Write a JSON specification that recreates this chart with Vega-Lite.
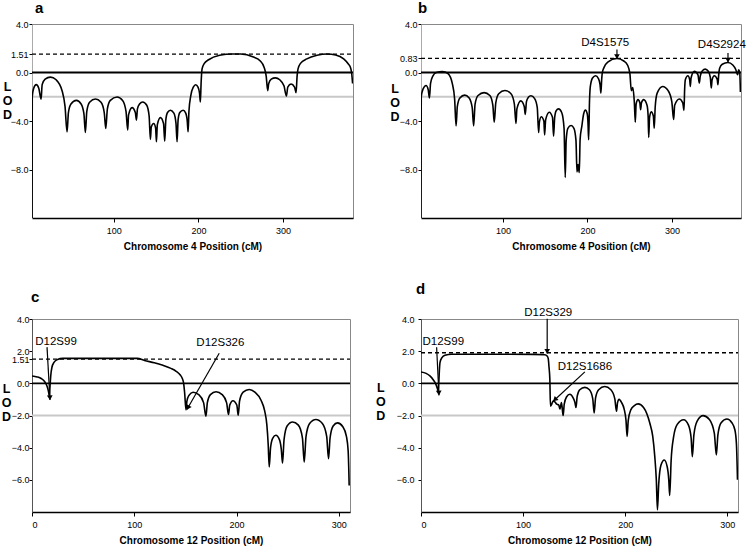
{
"$schema":"https://vega.github.io/schema/vega-lite/v6.json",
"padding":{"left":0,"top":0,"right":0,"bottom":0},
"config":{"font":"Liberation Sans","view":{"stroke":"#888","strokeWidth":1},
"axis":{"grid":false,"labelFont":"Liberation Sans","titleFont":"Liberation Sans","labelColor":"black","titleColor":"black","tickColor":"black","labelFontSize":9,"labelOverlap":false},
"title":{"font":"Liberation Sans","color":"black"},
"text":{"font":"Liberation Sans"}},
"datasets":{
"curveA":[{"x":3.6,"y":-12},{"x":3.8,"y":-2.0},{"x":5.5,"y":-1.3},{"x":8.5,"y":-1.0},{"x":11.5,"y":-1.3},{"x":14.2,"y":-2.2},{"x":15.5,"y":-1.0},{"x":19,"y":-0.55},{"x":25.2,"y":-0.38},{"x":32,"y":-0.6},{"x":39,"y":-1.5},{"x":42.5,"y":-2.8},{"x":44.9,"y":-4.9},{"x":46.5,"y":-3.3},{"x":49.5,"y":-2.6},{"x":55.9,"y":-2.3},{"x":61.5,"y":-2.6},{"x":64.8,"y":-3.4},{"x":66.5,"y":-4.95},{"x":68.2,"y":-3.2},{"x":71.5,"y":-2.45},{"x":78.4,"y":-2.19},{"x":85,"y":-2.45},{"x":88.8,"y":-3.3},{"x":90.6,"y":-4.62},{"x":92.5,"y":-3.0},{"x":96,"y":-2.3},{"x":103.9,"y":-2.02},{"x":110.5,"y":-2.3},{"x":114.5,"y":-3.2},{"x":116.5,"y":-4.75},{"x":117.5,"y":-3.5},{"x":121.6,"y":-2.9},{"x":125.5,"y":-3.3},{"x":126.8,"y":-3.93},{"x":128,"y":-3.0},{"x":130.5,"y":-2.6},{"x":134.2,"y":-2.43},{"x":139,"y":-2.7},{"x":141.8,"y":-3.6},{"x":143.3,"y":-5.52},{"x":144.3,"y":-4.5},{"x":147.2,"y":-4.2},{"x":149.5,"y":-4.6},{"x":150.4,"y":-5.71},{"x":151.5,"y":-4.3},{"x":155.1,"y":-3.72},{"x":158.8,"y":-4.2},{"x":160.2,"y":-5.66},{"x":161.5,"y":-3.9},{"x":163.5,"y":-3.3},{"x":166.9,"y":-3.11},{"x":171,"y":-3.35},{"x":173.5,"y":-4.2},{"x":174.8,"y":-5.71},{"x":176,"y":-3.9},{"x":178,"y":-3.3},{"x":181.9,"y":-3.11},{"x":185,"y":-3.35},{"x":186.8,"y":-4.0},{"x":187.8,"y":-4.89},{"x":188.8,"y":-3.2},{"x":191,"y":-1.9},{"x":194,"y":-1.2},{"x":196.8,"y":-1.01},{"x":199.5,"y":-1.2},{"x":201.3,"y":-1.7},{"x":202.3,"y":-2.43},{"x":203.2,"y":-0.8},{"x":204.3,"y":0.3},{"x":207,"y":0.75},{"x":212,"y":1.05},{"x":225,"y":1.42},{"x":240,"y":1.53},{"x":250,"y":1.53},{"x":265,"y":1.27},{"x":273,"y":0.95},{"x":277.5,"y":0.44},{"x":280,"y":-0.3},{"x":281.8,"y":-1.5},{"x":283,"y":-0.9},{"x":286,"y":-0.55},{"x":290.9,"y":-0.44},{"x":296,"y":-0.6},{"x":301,"y":-1.1},{"x":303.9,"y":-1.94},{"x":305.5,"y":-1.2},{"x":309.4,"y":-0.95},{"x":313.5,"y":-1.2},{"x":315.3,"y":-1.67},{"x":316.5,"y":-0.3},{"x":317.6,"y":0.3},{"x":320.5,"y":0.75},{"x":328,"y":1.12},{"x":340,"y":1.42},{"x":352,"y":1.53},{"x":362,"y":1.45},{"x":371.5,"y":1.12},{"x":377,"y":0.7},{"x":379.4,"y":0.44},{"x":381,"y":-0.1},{"x":382,"y":-0.9}],
"curveB":[{"x":3.0,"y":-12},{"x":3.3,"y":-2.0},{"x":5.5,"y":-1.35},{"x":9.0,"y":-1.07},{"x":11.5,"y":-1.4},{"x":13.0,"y":-2.1},{"x":14.3,"y":-0.9},{"x":17,"y":-0.3},{"x":21,"y":0.0},{"x":28.2,"y":0.08},{"x":35,"y":-0.1},{"x":40,"y":-0.9},{"x":42.8,"y":-2.2},{"x":44.5,"y":-4.4},{"x":46,"y":-2.8},{"x":49,"y":-2.1},{"x":54.6,"y":-1.87},{"x":60,"y":-2.1},{"x":63.6,"y":-2.9},{"x":65.3,"y":-4.4},{"x":67,"y":-2.6},{"x":70.5,"y":-1.9},{"x":77.7,"y":-1.66},{"x":84.5,"y":-1.9},{"x":88,"y":-2.7},{"x":89.7,"y":-4.1},{"x":91.5,"y":-2.5},{"x":95,"y":-1.75},{"x":102.3,"y":-1.49},{"x":109.5,"y":-1.75},{"x":113.5,"y":-2.6},{"x":115.4,"y":-4.2},{"x":116.5,"y":-3.0},{"x":121.1,"y":-2.34},{"x":125.2,"y":-2.8},{"x":126.4,"y":-3.45},{"x":127.8,"y":-2.4},{"x":130,"y":-2.05},{"x":133.1,"y":-1.92},{"x":137.5,"y":-2.15},{"x":140.6,"y":-2.9},{"x":142.2,"y":-4.95},{"x":143.1,"y":-4.1},{"x":145.3,"y":-3.65},{"x":148.4,"y":-4.0},{"x":149.3,"y":-5.15},{"x":150.5,"y":-3.9},{"x":154.8,"y":-3.28},{"x":158.6,"y":-3.7},{"x":159.9,"y":-5.25},{"x":161.2,"y":-3.7},{"x":163,"y":-3.15},{"x":165.8,"y":-3.0},{"x":169.5,"y":-3.3},{"x":172.3,"y":-4.6},{"x":173.7,"y":-8.66},{"x":174.8,"y":-5.6},{"x":176.8,"y":-4.6},{"x":180.6,"y":-4.37},{"x":184,"y":-4.6},{"x":186.4,"y":-5.6},{"x":187.6,"y":-8.2},{"x":188.9,"y":-7.6},{"x":190.3,"y":-8.25},{"x":191.3,"y":-5.5},{"x":193.4,"y":-4.4},{"x":195.5,"y":-3.4},{"x":197.6,"y":-3.1},{"x":199.7,"y":-3.4},{"x":200.6,"y":-4.1},{"x":201.4,"y":-5.55},{"x":202.4,"y":-2.4},{"x":203.4,"y":-1.15},{"x":206,"y":-0.45},{"x":209.6,"y":-0.27},{"x":213,"y":-0.5},{"x":214.9,"y":-1.0},{"x":215.9,"y":-1.7},{"x":216.8,"y":-0.6},{"x":217.5,"y":-0.05},{"x":219.5,"y":0.4},{"x":224,"y":0.85},{"x":234.9,"y":1.15},{"x":243,"y":0.95},{"x":247.5,"y":0.6},{"x":250.2,"y":-0.1},{"x":251.9,"y":-1.5},{"x":253.6,"y":-1.25},{"x":255.5,"y":-2.5},{"x":256.6,"y":-4.1},{"x":257.6,"y":-2.6},{"x":259.8,"y":-2.24},{"x":262,"y":-2.5},{"x":262.9,"y":-3.06},{"x":263.9,"y":-2.5},{"x":266.5,"y":-2.24},{"x":270.5,"y":-2.7},{"x":271.8,"y":-3.6},{"x":272.5,"y":-5.35},{"x":273.5,"y":-3.7},{"x":275.5,"y":-3.25},{"x":278,"y":-3.6},{"x":279,"y":-4.6},{"x":280.2,"y":-2.8},{"x":282.5,"y":-1.7},{"x":289,"y":-1.15},{"x":295.5,"y":-1.5},{"x":299.8,"y":-2.4},{"x":302,"y":-3.88},{"x":303.2,"y":-2.7},{"x":308.7,"y":-2.19},{"x":312.8,"y":-2.5},{"x":314.2,"y":-3.12},{"x":315,"y":-1.4},{"x":315.8,"y":-0.6},{"x":318.8,"y":-0.27},{"x":321,"y":-0.6},{"x":321.7,"y":-1.15},{"x":322.6,"y":-0.45},{"x":326.5,"y":0.1},{"x":330.8,"y":-0.2},{"x":332.3,"y":-0.87},{"x":333.5,"y":-0.3},{"x":336,"y":0.15},{"x":339.4,"y":0.28},{"x":343,"y":0.1},{"x":345.4,"y":-0.4},{"x":346.5,"y":-1.28},{"x":347.5,"y":-0.6},{"x":350.1,"y":-0.27},{"x":353.5,"y":-0.55},{"x":354.4,"y":-1.01},{"x":355.3,"y":-0.2},{"x":356.4,"y":0.36},{"x":359.5,"y":0.68},{"x":366.3,"y":0.82},{"x":372,"y":0.62},{"x":375.5,"y":0.25},{"x":377.7,"y":-0.19},{"x":378.9,"y":0.22},{"x":380.2,"y":0.0},{"x":381,"y":-1.6}],
"curveC":[{"x":0,"y":0.46},{"x":5,"y":0.4},{"x":9,"y":0.3},{"x":12.5,"y":0.1},{"x":14.8,"y":-0.2},{"x":16.4,"y":-0.6},{"x":17,"y":-0.85},{"x":17.5,"y":-0.3},{"x":18.3,"y":0.45},{"x":19.5,"y":1.0},{"x":21.5,"y":1.3},{"x":25,"y":1.48},{"x":30,"y":1.55},{"x":60,"y":1.55},{"x":90,"y":1.55},{"x":103,"y":1.55},{"x":110,"y":1.42},{"x":119.6,"y":1.28},{"x":128,"y":1.12},{"x":135.9,"y":0.93},{"x":141,"y":0.75},{"x":145,"y":0.52},{"x":147,"y":0.3},{"x":148.3,"y":0.0},{"x":149.3,"y":-0.6},{"x":150.6,"y":-1.65},{"x":151.5,"y":-1.1},{"x":153.5,"y":-0.75},{"x":157.5,"y":-0.55},{"x":163,"y":-0.7},{"x":167.8,"y":-1.2},{"x":170.1,"y":-2.05},{"x":171.5,"y":-1.2},{"x":174.5,"y":-0.7},{"x":180,"y":-0.52},{"x":186,"y":-0.7},{"x":190.3,"y":-1.2},{"x":192.2,"y":-1.94},{"x":193.4,"y":-1.35},{"x":196.5,"y":-1.08},{"x":200.3,"y":-1.35},{"x":201.7,"y":-1.98},{"x":203,"y":-1.1},{"x":206.5,"y":-0.55},{"x":212.4,"y":-0.38},{"x":218,"y":-0.55},{"x":224,"y":-1.05},{"x":227.5,"y":-1.7},{"x":229.7,"y":-2.6},{"x":231,"y":-3.8},{"x":232,"y":-5.2},{"x":233.3,"y":-4.0},{"x":235.5,"y":-3.4},{"x":238.5,"y":-3.23},{"x":242,"y":-3.5},{"x":243.8,"y":-4.1},{"x":245,"y":-4.96},{"x":246.5,"y":-3.5},{"x":249.5,"y":-2.65},{"x":254.8,"y":-2.4},{"x":260.5,"y":-2.6},{"x":264.5,"y":-3.4},{"x":266.2,"y":-4.9},{"x":268,"y":-3.3},{"x":271.5,"y":-2.5},{"x":277.6,"y":-2.25},{"x":284,"y":-2.5},{"x":288.2,"y":-3.3},{"x":290,"y":-4.69},{"x":291.5,"y":-3.4},{"x":294.5,"y":-2.65},{"x":298.8,"y":-2.46},{"x":304,"y":-2.7},{"x":307.5,"y":-3.3},{"x":309.2,"y":-4.2},{"x":310.2,"y":-6.35}],
"curveD":[{"x":0,"y":0.71},{"x":5,"y":0.62},{"x":9,"y":0.45},{"x":12.1,"y":0.21},{"x":14.5,"y":-0.05},{"x":16.2,"y":-0.35},{"x":16.9,"y":-0.5},{"x":17.4,"y":0.0},{"x":18.0,"y":0.8},{"x":18.6,"y":1.29},{"x":20.5,"y":1.6},{"x":23.5,"y":1.75},{"x":30,"y":1.81},{"x":70,"y":1.81},{"x":110,"y":1.8},{"x":121.3,"y":1.78},{"x":123.5,"y":1.7},{"x":124.6,"y":1.55},{"x":125.4,"y":1.0},{"x":126.2,"y":0.25},{"x":126.8,"y":-1.42},{"x":128,"y":-1.3},{"x":129.5,"y":-1.1},{"x":131.1,"y":-1.15},{"x":133,"y":-1.3},{"x":135,"y":-1.35},{"x":136,"y":-1.6},{"x":137.6,"y":-1.2},{"x":139.2,"y":-2.0},{"x":140.3,"y":-1.3},{"x":142.5,"y":-0.85},{"x":145.8,"y":-0.68},{"x":149,"y":-0.9},{"x":150.8,"y":-1.2},{"x":151.8,"y":-1.5},{"x":153,"y":-0.8},{"x":155.5,"y":-0.4},{"x":160.5,"y":-0.25},{"x":165,"y":-0.4},{"x":168.2,"y":-0.95},{"x":169.6,"y":-1.84},{"x":171,"y":-0.9},{"x":174,"y":-0.4},{"x":180,"y":-0.2},{"x":186,"y":-0.4},{"x":189.8,"y":-0.95},{"x":191.5,"y":-1.74},{"x":192.5,"y":-1.2},{"x":194,"y":-1.0},{"x":196.5,"y":-1.2},{"x":199,"y":-1.6},{"x":200.8,"y":-2.3},{"x":201.9,"y":-3.3},{"x":203,"y":-2.3},{"x":205.5,"y":-1.65},{"x":209,"y":-1.38},{"x":212.7,"y":-1.28},{"x":218,"y":-1.5},{"x":224.1,"y":-2.47},{"x":227,"y":-3.3},{"x":229,"y":-4.56},{"x":230.5,"y":-6.0},{"x":231.6,"y":-7.87},{"x":232.8,"y":-6.3},{"x":235,"y":-5.1},{"x":238.3,"y":-4.77},{"x":241.2,"y":-5.2},{"x":242.7,"y":-6.0},{"x":243.6,"y":-6.97},{"x":245,"y":-4.8},{"x":247.5,"y":-3.3},{"x":251,"y":-2.55},{"x":257.3,"y":-2.26},{"x":262,"y":-2.6},{"x":264.6,"y":-3.4},{"x":265.8,"y":-4.56},{"x":267.3,"y":-3.2},{"x":270.5,"y":-2.35},{"x":276.3,"y":-2.01},{"x":282.5,"y":-2.25},{"x":287.3,"y":-3.1},{"x":289.3,"y":-4.46},{"x":290.8,"y":-3.2},{"x":294,"y":-2.45},{"x":299.7,"y":-2.22},{"x":304.5,"y":-2.45},{"x":307.5,"y":-2.9},{"x":309,"y":-3.8},{"x":310,"y":-6.0}],
"refs":[
{"panel":"a","kind":"grey","x":3.5,"x2":382.5,"y":-2},{"panel":"a","kind":"dash","x":3.5,"x2":382.5,"y":1.51},{"panel":"a","kind":"zero","x":3.5,"x2":382.5,"y":0},
{"panel":"b","kind":"grey","x":3,"x2":381.7,"y":-2},{"panel":"b","kind":"dash","x":3,"x2":381.7,"y":1.17},{"panel":"b","kind":"zero","x":3,"x2":381.7,"y":0},
{"panel":"c","kind":"grey","x":0,"x2":311,"y":-2},{"panel":"c","kind":"dash","x":0,"x2":311,"y":1.51},{"panel":"c","kind":"zero","x":0,"x2":311,"y":0},
{"panel":"d","kind":"grey","x":0,"x2":310.5,"y":-2},{"panel":"d","kind":"dash","x":0,"x2":310.5,"y":1.9},{"panel":"d","kind":"zero","x":0,"x2":310.5,"y":0}],
"labels":[
{"panel":"b","label":"D4S1575","x":221,"y":2.42},
{"panel":"b","label":"D4S2924","x":359,"y":2.27},
{"panel":"c","label":"D12S99","x":23.5,"y":2.58},
{"panel":"c","label":"D12S326","x":184.2,"y":2.52},
{"panel":"d","label":"D12S99","x":21.8,"y":2.59},
{"panel":"d","label":"D12S329","x":124.6,"y":4.37},
{"panel":"d","label":"D12S1686","x":160.5,"y":1.03}],
"arrows":[
{"panel":"b","label":"D4S1575","x":234.9,"y":1.9,"x2":234.9,"y2":1.13},
{"panel":"b","label":"D4S2924","x":366.3,"y":1.6,"x2":366.3,"y2":0.84},
{"panel":"c","label":"D12S99","x":14.7,"y":2.25,"x2":17.6,"y2":-1.04},
{"panel":"c","label":"D12S326","x":183.1,"y":1.875,"x2":151.5,"y2":-1.63},
{"panel":"d","label":"D12S99","x":15.3,"y":2.24,"x2":17.6,"y2":-0.75},
{"panel":"d","label":"D12S329","x":123.6,"y":4.02,"x2":123.6,"y2":1.85},
{"panel":"d","label":"D12S1686","x":160.5,"y":0.71,"x2":129.5,"y2":-1.11}],
"heads":[
{"panel":"b","label":"D4S1575","x":234.9,"y":1.38},
{"panel":"b","label":"D4S2924","x":366.3,"y":1.09},
{"panel":"c","label":"D12S99","x":17.45,"y":-0.85},
{"panel":"c","label":"D12S326","x":152.97,"y":-1.47},
{"panel":"d","label":"D12S99","x":17.45,"y":-0.56},
{"panel":"d","label":"D12S329","x":123.6,"y":2.04},
{"panel":"d","label":"D12S1686","x":131.7,"y":-0.98}]
},
"columns":2,
"spacing":{"row":101,"column":68},
"bounds":"flush",
"concat":[
{"width":321,"height":194,
"title":{"text":"a","anchor":"start","frame":"group","dx":3,"offset":-8,"fontSize":15,"fontWeight":"bold","baseline":"alphabetic"},
"encoding":{
"x":{"field":"x","type":"quantitative","scale":{"domain":[3.5,382.5],"nice":false,"zero":false},
"axis":{"values":[100,200,300],"title":"Chromosome 4 Position (cM)","titleFontWeight":"bold","titleFontSize":10,"tickSize":4,"labelPadding":4,"titlePadding":6,"domainColor":"black","domainWidth":1.5}},
"y":{"field":"y","type":"quantitative","scale":{"domain":[-12,4],"nice":false},
"axis":{"values":[4,1.51,0,-4,-8],"labelExpr":"datum.value == 1.51 ? '1.51' : format(datum.value, '.1f')","title":["L","O","D"],"titleAngle":0,"titleAlign":"center","titleBaseline":"middle","titleX":-25,"titleY":62.4,"titleLineHeight":14,"titleFontSize":12.5,"titleFontWeight":"bold","tickSize":3,"labelPadding":1,"domainColor":"#aaa"}}},
"layer":[
{"data":{"name":"refs"},"transform":[{"filter":"datum.panel == 'a' && datum.kind == 'grey'"}],"mark":{"type":"rule","color":"#c8c8c8","strokeWidth":1.8},"encoding":{"x2":{"field":"x2"}}},
{"data":{"name":"refs"},"transform":[{"filter":"datum.panel == 'a' && datum.kind == 'dash'"}],"mark":{"type":"rule","color":"black","strokeWidth":1.3,"strokeDash":[4,3]},"encoding":{"x2":{"field":"x2"}}},
{"data":{"name":"refs"},"transform":[{"filter":"datum.panel == 'a' && datum.kind == 'zero'"}],"mark":{"type":"rule","color":"black","strokeWidth":1.8},"encoding":{"x2":{"field":"x2"}}},
{"data":{"name":"curveA"},"mark":{"type":"line","color":"black","strokeWidth":1.6,"interpolate":"monotone","clip":true}}
]},
{"width":320,"height":194,
"title":{"text":"b","anchor":"start","frame":"group","dx":-3,"offset":-8,"fontSize":15,"fontWeight":"bold","baseline":"alphabetic"},
"encoding":{
"x":{"field":"x","type":"quantitative","scale":{"domain":[3,381.7],"nice":false,"zero":false},
"axis":{"values":[100,200,300],"title":"Chromosome 4 Position (cM)","titleFontWeight":"bold","titleFontSize":10,"tickSize":4,"labelPadding":4,"titlePadding":6,"domainColor":"black","domainWidth":1.5}},
"y":{"field":"y","type":"quantitative","scale":{"domain":[-12,4],"nice":false},
"axis":{"values":[4,1.17,0,-4,-8],"labelExpr":"datum.value == 1.17 ? '0.83' : format(datum.value, '.1f')","title":["L","O","D"],"titleAngle":0,"titleAlign":"center","titleBaseline":"middle","titleX":-26.4,"titleY":64,"titleLineHeight":14,"titleFontSize":12.5,"titleFontWeight":"bold","tickSize":3,"labelPadding":1,"domainColor":"#aaa"}}},
"layer":[
{"data":{"name":"refs"},"transform":[{"filter":"datum.panel == 'b' && datum.kind == 'grey'"}],"mark":{"type":"rule","color":"#c8c8c8","strokeWidth":1.8},"encoding":{"x2":{"field":"x2"}}},
{"data":{"name":"refs"},"transform":[{"filter":"datum.panel == 'b' && datum.kind == 'dash'"}],"mark":{"type":"rule","color":"black","strokeWidth":1.3,"strokeDash":[4,3]},"encoding":{"x2":{"field":"x2"}}},
{"data":{"name":"refs"},"transform":[{"filter":"datum.panel == 'b' && datum.kind == 'zero'"}],"mark":{"type":"rule","color":"black","strokeWidth":1.8},"encoding":{"x2":{"field":"x2"}}},
{"data":{"name":"curveB"},"mark":{"type":"line","color":"black","strokeWidth":1.6,"interpolate":"monotone","clip":true}},
{"data":{"name":"arrows"},"transform":[{"filter":"datum.panel == 'b'"}],"mark":{"type":"rule","color":"black","strokeWidth":1.2},"encoding":{"x2":{"field":"x2"},"y2":{"field":"y2"}}},
{"data":{"name":"heads"},"transform":[{"filter":"datum.panel == 'b'"}],"mark":{"type":"point","shape":"triangle","angle":180,"filled":true,"color":"black","size":32,"opacity":1}},
{"data":{"name":"labels"},"transform":[{"filter":"datum.panel == 'b'"}],"mark":{"type":"text","fontSize":11.5,"color":"black","baseline":"middle","align":"center"},"encoding":{"text":{"field":"label"}}}
]},
{"width":318,"height":193,
"title":{"text":"c","anchor":"start","frame":"group","dx":-1,"offset":-2,"fontSize":15,"fontWeight":"bold","baseline":"alphabetic"},
"encoding":{
"x":{"field":"x","type":"quantitative","scale":{"domain":[0,311],"nice":false,"zero":false},
"axis":{"values":[0,100,200,300],"title":"Chromosome 12 Position (cM)","titleFontWeight":"bold","titleFontSize":10,"tickSize":4,"labelPadding":4,"titlePadding":6,"domainColor":"black","domainWidth":1.5}},
"y":{"field":"y","type":"quantitative","scale":{"domain":[-8,4],"nice":false},
"axis":{"values":[4,2,1.51,0,-2,-4,-6],"labelExpr":"datum.value == 1.51 ? '1.51' : format(datum.value, '.1f')","title":["L","O","D"],"titleAngle":0,"titleAlign":"center","titleBaseline":"middle","titleX":-26,"titleY":69.3,"titleLineHeight":14,"titleFontSize":12.5,"titleFontWeight":"bold","tickSize":3,"labelPadding":0,"domainColor":"#555"}}},
"layer":[
{"data":{"name":"refs"},"transform":[{"filter":"datum.panel == 'c' && datum.kind == 'grey'"}],"mark":{"type":"rule","color":"#c8c8c8","strokeWidth":1.8},"encoding":{"x2":{"field":"x2"}}},
{"data":{"name":"refs"},"transform":[{"filter":"datum.panel == 'c' && datum.kind == 'dash'"}],"mark":{"type":"rule","color":"black","strokeWidth":1.3,"strokeDash":[4,3]},"encoding":{"x2":{"field":"x2"}}},
{"data":{"name":"refs"},"transform":[{"filter":"datum.panel == 'c' && datum.kind == 'zero'"}],"mark":{"type":"rule","color":"black","strokeWidth":1.8},"encoding":{"x2":{"field":"x2"}}},
{"data":{"name":"curveC"},"mark":{"type":"line","color":"black","strokeWidth":1.6,"interpolate":"monotone","clip":true}},
{"data":{"name":"arrows"},"transform":[{"filter":"datum.panel == 'c'"}],"mark":{"type":"rule","color":"black","strokeWidth":1.2},"encoding":{"x2":{"field":"x2"},"y2":{"field":"y2"}}},
{"data":{"name":"heads"},"transform":[{"filter":"datum.panel == 'c' && datum.label == 'D12S99'"}],"mark":{"type":"point","shape":"triangle","angle":177,"filled":true,"color":"black","size":32,"opacity":1}},
{"data":{"name":"heads"},"transform":[{"filter":"datum.panel == 'c' && datum.label == 'D12S326'"}],"mark":{"type":"point","shape":"triangle","angle":210,"filled":true,"color":"black","size":32,"opacity":1}},
{"data":{"name":"labels"},"transform":[{"filter":"datum.panel == 'c'"}],"mark":{"type":"text","fontSize":11.5,"color":"black","baseline":"middle","align":"center"},"encoding":{"text":{"field":"label"}}}
]},
{"width":317,"height":193,
"title":{"text":"d","anchor":"start","frame":"group","dx":-5,"offset":-2,"fontSize":15,"fontWeight":"bold","baseline":"alphabetic"},
"encoding":{
"x":{"field":"x","type":"quantitative","scale":{"domain":[0,310.5],"nice":false,"zero":false},
"axis":{"values":[0,100,200,300],"title":"Chromosome 12 Position (cM)","titleFontWeight":"bold","titleFontSize":10,"tickSize":4,"labelPadding":4,"titlePadding":6,"domainColor":"black","domainWidth":1.5}},
"y":{"field":"y","type":"quantitative","scale":{"domain":[-8,4],"nice":false},
"axis":{"values":[4,2,0,-2,-4,-6],"format":".1f","title":["L","O","D"],"titleAngle":0,"titleAlign":"center","titleBaseline":"middle","titleX":-40.7,"titleY":68.7,"titleLineHeight":14,"titleFontSize":12.5,"titleFontWeight":"bold","tickSize":3,"labelPadding":4,"domainColor":"#555"}}},
"layer":[
{"data":{"name":"refs"},"transform":[{"filter":"datum.panel == 'd' && datum.kind == 'grey'"}],"mark":{"type":"rule","color":"#c8c8c8","strokeWidth":1.8},"encoding":{"x2":{"field":"x2"}}},
{"data":{"name":"refs"},"transform":[{"filter":"datum.panel == 'd' && datum.kind == 'dash'"}],"mark":{"type":"rule","color":"black","strokeWidth":1.3,"strokeDash":[4,3]},"encoding":{"x2":{"field":"x2"}}},
{"data":{"name":"refs"},"transform":[{"filter":"datum.panel == 'd' && datum.kind == 'zero'"}],"mark":{"type":"rule","color":"black","strokeWidth":1.8},"encoding":{"x2":{"field":"x2"}}},
{"data":{"name":"curveD"},"mark":{"type":"line","color":"black","strokeWidth":1.6,"interpolate":"monotone","clip":true}},
{"data":{"name":"arrows"},"transform":[{"filter":"datum.panel == 'd'"}],"mark":{"type":"rule","color":"black","strokeWidth":1.2},"encoding":{"x2":{"field":"x2"},"y2":{"field":"y2"}}},
{"data":{"name":"heads"},"transform":[{"filter":"datum.panel == 'd' && datum.label == 'D12S99'"}],"mark":{"type":"point","shape":"triangle","angle":177,"filled":true,"color":"black","size":32,"opacity":1}},
{"data":{"name":"heads"},"transform":[{"filter":"datum.panel == 'd' && datum.label == 'D12S329'"}],"mark":{"type":"point","shape":"triangle","angle":180,"filled":true,"color":"black","size":32,"opacity":1}},
{"data":{"name":"heads"},"transform":[{"filter":"datum.panel == 'd' && datum.label == 'D12S1686'"}],"mark":{"type":"point","shape":"triangle","angle":227,"filled":true,"color":"black","size":32,"opacity":1}},
{"data":{"name":"labels"},"transform":[{"filter":"datum.panel == 'd'"}],"mark":{"type":"text","fontSize":11.5,"color":"black","baseline":"middle","align":"center"},"encoding":{"text":{"field":"label"}}}
]}
]
}
